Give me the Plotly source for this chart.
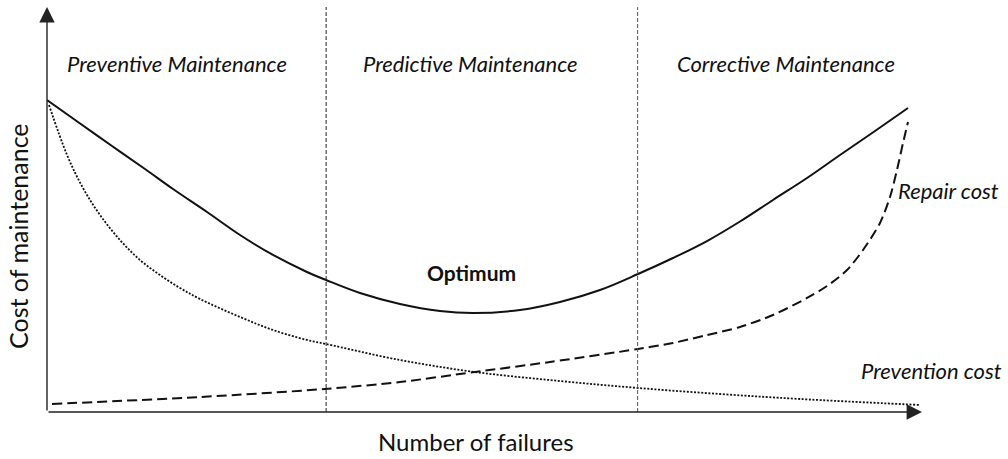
import plotly.graph_objects as go

# Data (arbitrary units): x = number of failures, y = cost of maintenance
total_x = [0, 3.54, 7.43, 11.2, 14.4, 18.29, 22.06, 25.83, 29.71, 31.89, 35.77, 40.34, 44.91,
           48.69, 54.06, 58.63, 63.2, 67.54, 71.54, 75.43, 79.2, 82.97, 86.86, 90.63, 94.63, 98.4]
total_y = [77.04, 71.6, 65.68, 60.0, 55.06, 49.38, 43.7, 38.77, 34.57, 32.59, 29.38, 26.67, 24.94,
           24.44, 25.19, 27.16, 30.12, 34.07, 38.02, 42.22, 47.04, 52.35, 57.78, 63.46, 69.38, 75.06]

prevention_x = [0.23, 2.29, 4.11, 6.06, 8.34, 10.63, 12.91, 15.2, 17.49, 22.06, 25.83, 29.71,
                31.89, 40.34, 48.91, 58.63, 67.54, 76.91, 86.06, 99.77]
prevention_y = [75.8, 63.46, 55.31, 48.64, 42.47, 37.53, 33.83, 30.62, 27.9, 23.46, 20.25, 17.78,
                16.79, 12.84, 9.88, 7.65, 5.93, 4.44, 3.21, 1.73]

repair_x = [0.57, 17.49, 31.77, 40.34, 48.91, 57.49, 67.54, 71.54, 75.43, 79.2, 82.97, 86.86,
            89.14, 91.43, 93.26, 95.2, 96.34, 97.14, 97.83, 98.4]
repair_y = [1.98, 3.7, 5.68, 7.41, 9.88, 12.35, 15.56, 17.04, 19.01, 20.99, 23.95, 28.15,
            31.11, 35.06, 40.0, 46.67, 53.09, 59.75, 66.42, 71.6]

zone_bounds = [31.9, 67.5]
zone_labels = ["Preventive Maintenance", "Predictive Maintenance", "Corrective Maintenance"]
zone_label_x = [14.9, 48.4, 84.4]
zone_label_y = 86.0

X_MAX, Y_MAX = 100, 100
FONT = "Lato"

fig = go.Figure()
fig.add_trace(go.Scatter(x=prevention_x, y=prevention_y, mode="lines",
                         line=dict(color="#111", width=1.8, dash="2px,1.6px", shape="spline", smoothing=1.0),
                         hoverinfo="skip"))
fig.add_trace(go.Scatter(x=repair_x, y=repair_y, mode="lines",
                         line=dict(color="#111", width=2, dash="10px,5px", shape="spline", smoothing=0.8),
                         hoverinfo="skip"))
fig.add_trace(go.Scatter(x=total_x, y=total_y, mode="lines",
                         line=dict(color="#111", width=2, shape="spline", smoothing=1.0),
                         hoverinfo="skip"))

shapes = []
for b, c in zip(zone_bounds, ["#222", "#555"]):
    shapes.append(dict(type="line", x0=b, x1=b, y0=0, y1=Y_MAX, xref="x", yref="y",
                       line=dict(color=c, width=1, dash="4px,2px")))

annotations = []
# axes with arrow heads
annotations.append(dict(x=0, y=Y_MAX, ax=0, ay=0, xref="x", yref="y", axref="x", ayref="y",
                        showarrow=True, arrowhead=2, arrowsize=2.2, arrowwidth=1.4,
                        arrowcolor="#222", text=""))
annotations.append(dict(x=X_MAX, y=0, ax=0, ay=0, xref="x", yref="y", axref="x", ayref="y",
                        showarrow=True, arrowhead=2, arrowsize=2.2, arrowwidth=1.4,
                        arrowcolor="#222", text=""))

for lbl, lx in zip(zone_labels, zone_label_x):
    annotations.append(dict(x=lx, y=zone_label_y, xref="x", yref="y", text=lbl, showarrow=False,
                            font=dict(family=FONT, size=22, color="#111", style="italic")))

annotations.append(dict(x=48.5, y=34.5, xref="x", yref="y", text="<b>Optimum</b>", showarrow=False,
                        font=dict(family=FONT, size=21, color="#111")))
annotations.append(dict(x=97.0, y=54.8, xref="x", yref="y", text="Repair cost", showarrow=False,
                        xanchor="left", font=dict(family=FONT, size=22, color="#111", style="italic")))
annotations.append(dict(x=92.8, y=10.2, xref="x", yref="y", text="Prevention cost", showarrow=False,
                        xanchor="left", font=dict(family=FONT, size=22, color="#111", style="italic")))
annotations.append(dict(x=0.49, y=-0.074, xref="paper", yref="paper", text="Number of failures",
                        showarrow=False, yanchor="middle", xanchor="center",
                        font=dict(family=FONT, size=24, color="#111")))
annotations.append(dict(x=-0.033, y=0.435, xref="paper", yref="paper", text="Cost of maintenance",
                        showarrow=False, textangle=-90, xanchor="center", yanchor="middle",
                        font=dict(family=FONT, size=25, color="#111")))

fig.update_layout(
    width=1008, height=459,
    margin=dict(l=47, r=86, t=7, b=47),
    paper_bgcolor="white", plot_bgcolor="white",
    showlegend=False,
    xaxis=dict(range=[0, X_MAX], visible=False, fixedrange=True),
    yaxis=dict(range=[0, Y_MAX], visible=False, fixedrange=True),
    shapes=shapes,
    annotations=annotations,
)

fig.write_html("out.html", config={"displayModeBar": False},
               post_script="document.body.style.margin='0';document.body.style.overflow='hidden';")
